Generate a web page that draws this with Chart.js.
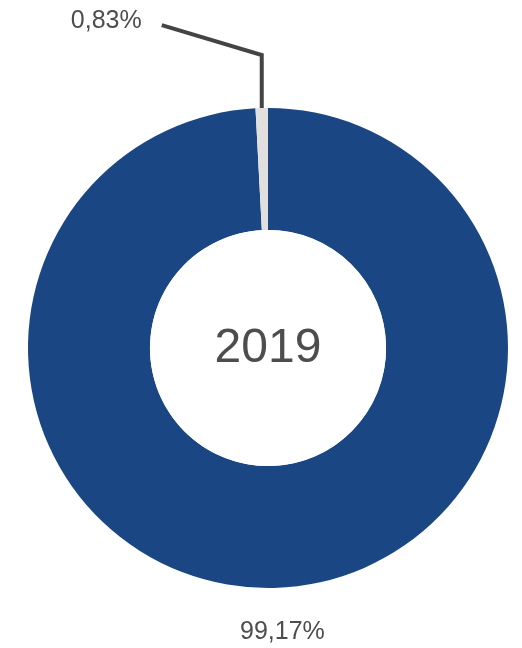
<!DOCTYPE html>
<html>
<head>
<meta charset="utf-8">
<script src="https://cdn.jsdelivr.net/npm/chart.js@4.4.1/dist/chart.umd.min.js"></script>
<style>
  html, body { margin: 0; padding: 0; background: #ffffff; }
  #wrap { width: 522px; height: 648px; position: relative; }
</style>
</head>
<body>
<div id="wrap"><canvas id="donutChart"></canvas></div>
<script>
// Share of each category in 2019
const categories = ['Principal', 'Other'];
const shares = [99.17, 0.83];
const shareLabels = ['99,17%', '0,83%'];
const centerLabel = '2019';

const colors = ['#1a4784', '#e1e0de'];
const textColor = '#4d4d4d';
const fontFamily = '"Liberation Sans", Arial, sans-serif';

// Draw the centre disc, the year and the slice labels
const labelPlugin = {
    id: 'sliceLabels',
    afterDatasetsDraw(chart) {
        const c = chart.ctx;
        const arcs = chart.getDatasetMeta(0).data;
        const first = arcs[0];

        // white centre
        c.save();
        c.beginPath();
        c.arc(first.x, first.y, first.innerRadius, 0, Math.PI * 2);
        c.fillStyle = '#ffffff';
        c.fill();

        c.fillStyle = textColor;
        c.textAlign = 'center';
        c.textBaseline = 'middle';
        c.font = '48px ' + fontFamily;
        c.fillText(centerLabel, first.x, first.y + 1);

        // big slice label, below the ring
        const midBig = (first.startAngle + first.endAngle) / 2;
        c.font = '25px ' + fontFamily;
        c.fillText(shareLabels[0],
            first.x + Math.cos(midBig) * (first.outerRadius + 44) + 7,
            first.y + Math.sin(midBig) * (first.outerRadius + 44));

        // small slice: leader line up, then across to the label
        const small = arcs[1];
        const midSmall = (small.startAngle + small.endAngle) / 2;
        const px = small.x + Math.cos(midSmall) * small.outerRadius;
        const py = small.y + Math.sin(midSmall) * small.outerRadius;
        c.strokeStyle = '#444444';
        c.lineWidth = 4;
        c.lineJoin = 'miter';
        c.beginPath();
        c.moveTo(px, py);
        c.lineTo(px, py - 53);
        c.lineTo(px - 100, py - 83);
        c.stroke();

        c.textAlign = 'right';
        c.fillText(shareLabels[1], px - 120, py - 87);
        c.restore();
    }
};

const ctx = document.getElementById('donutChart').getContext('2d');

const donutChart = new Chart(ctx, {
    type: 'doughnut',
    data: {
        labels: categories,
        datasets: [{
            data: shares,
            backgroundColor: colors,
            borderWidth: 0
        }]
    },
    options: {
        responsive: true,
        maintainAspectRatio: false,
        animation: false,
        cutout: '49.2%',
        layout: {
            padding: { top: 108, bottom: 60, left: 28, right: 14 }
        },
        plugins: {
            legend: { display: false },
            tooltip: { enabled: false }
        }
    },
    plugins: [labelPlugin]
});
</script>
</body>
</html>
